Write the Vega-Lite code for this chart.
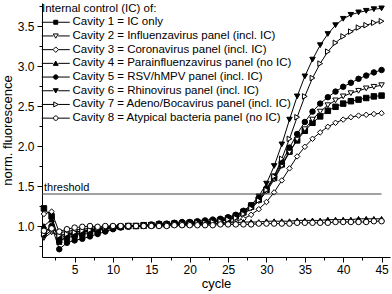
{
  "$schema": "https://vega.github.io/schema/vega-lite/v6.json",
  "width": 348,
  "height": 254,
  "autosize": {"type": "none"},
  "padding": {"left": 42, "top": 3, "right": 2, "bottom": 37},
  "config": {
    "font": "Liberation Sans",
    "view": {"stroke": null},
    "axis": {"domainColor": "black", "tickColor": "black", "labelColor": "black", "titleColor": "black", "labelFontSize": 12, "titleFontSize": 13, "titleFontWeight": "normal", "grid": false, "labelFont": "Liberation Sans", "titleFont": "Liberation Sans"}
  },
  "datasets": {
    "curves": [
      {"c":1,"C1":1.22,"C2":0.85,"C3":1.15,"C4":1.0,"C5":0.92,"C6":0.87,"C7":0.9,"C8":0.94},
      {"c":2,"C1":1.12,"C2":0.92,"C3":1.18,"C4":1.08,"C5":1.0,"C6":0.95,"C7":0.98,"C8":0.97},
      {"c":3,"C1":0.82,"C2":0.88,"C3":0.92,"C4":0.8,"C5":0.71,"C6":0.85,"C7":0.88,"C8":0.93},
      {"c":4,"C1":0.85,"C2":0.9,"C3":0.93,"C4":0.88,"C5":0.79,"C6":0.88,"C7":0.9,"C8":0.96},
      {"c":5,"C1":0.88,"C2":0.92,"C3":0.95,"C4":0.9,"C5":0.82,"C6":0.9,"C7":0.92,"C8":0.98},
      {"c":6,"C1":0.9,"C2":0.94,"C3":0.96,"C4":0.92,"C5":0.84,"C6":0.92,"C7":0.94,"C8":0.99},
      {"c":7,"C1":0.92,"C2":0.95,"C3":0.97,"C4":0.94,"C5":0.87,"C6":0.94,"C7":0.95,"C8":1.0},
      {"c":8,"C1":0.94,"C2":0.96,"C3":0.98,"C4":0.96,"C5":0.9,"C6":0.95,"C7":0.97,"C8":0.99},
      {"c":9,"C1":0.96,"C2":0.97,"C3":0.99,"C4":0.97,"C5":0.93,"C6":0.97,"C7":0.98,"C8":1.0},
      {"c":10,"C1":0.98,"C2":0.98,"C3":1.0,"C4":0.98,"C5":0.96,"C6":0.98,"C7":0.99,"C8":1.0},
      {"c":11,"C1":0.99,"C2":0.99,"C3":1.0,"C4":0.99,"C5":0.98,"C6":0.99,"C7":0.99,"C8":1.0},
      {"c":12,"C1":1.0,"C2":1.0,"C3":1.0,"C4":1.0,"C5":0.99,"C6":1.0,"C7":1.0,"C8":1.0},
      {"c":13,"C1":1.0,"C2":1.0,"C3":1.0,"C4":1.0,"C5":1.0,"C6":1.0,"C7":1.0,"C8":1.0},
      {"c":14,"C1":1.01,"C2":1.0,"C3":1.0,"C4":1.0,"C5":1.01,"C6":1.01,"C7":1.0,"C8":1.0},
      {"c":15,"C1":1.01,"C2":1.01,"C3":1.0,"C4":1.01,"C5":1.02,"C6":1.01,"C7":1.01,"C8":1.0},
      {"c":16,"C1":1.02,"C2":1.01,"C3":1.01,"C4":1.01,"C5":1.03,"C6":1.02,"C7":1.01,"C8":1.0},
      {"c":17,"C1":1.02,"C2":1.02,"C3":1.01,"C4":1.01,"C5":1.03,"C6":1.02,"C7":1.02,"C8":1.0},
      {"c":18,"C1":1.03,"C2":1.02,"C3":1.01,"C4":1.02,"C5":1.04,"C6":1.03,"C7":1.02,"C8":1.01},
      {"c":19,"C1":1.03,"C2":1.03,"C3":1.01,"C4":1.02,"C5":1.05,"C6":1.03,"C7":1.03,"C8":1.01},
      {"c":20,"C1":1.04,"C2":1.03,"C3":1.02,"C4":1.02,"C5":1.05,"C6":1.04,"C7":1.03,"C8":1.01},
      {"c":21,"C1":1.04,"C2":1.04,"C3":1.02,"C4":1.03,"C5":1.06,"C6":1.05,"C7":1.04,"C8":1.01},
      {"c":22,"C1":1.05,"C2":1.04,"C3":1.02,"C4":1.03,"C5":1.07,"C6":1.05,"C7":1.04,"C8":1.01},
      {"c":23,"C1":1.06,"C2":1.05,"C3":1.03,"C4":1.03,"C5":1.08,"C6":1.06,"C7":1.05,"C8":1.01},
      {"c":24,"C1":1.07,"C2":1.06,"C3":1.03,"C4":1.04,"C5":1.09,"C6":1.08,"C7":1.06,"C8":1.02},
      {"c":25,"C1":1.09,"C2":1.08,"C3":1.04,"C4":1.04,"C5":1.11,"C6":1.1,"C7":1.08,"C8":1.02},
      {"c":26,"C1":1.12,"C2":1.1,"C3":1.06,"C4":1.04,"C5":1.14,"C6":1.13,"C7":1.1,"C8":1.02},
      {"c":27,"C1":1.17,"C2":1.15,"C3":1.09,"C4":1.05,"C5":1.19,"C6":1.18,"C7":1.15,"C8":1.02},
      {"c":28,"C1":1.24,"C2":1.22,"C3":1.14,"C4":1.05,"C5":1.26,"C6":1.26,"C7":1.22,"C8":1.02},
      {"c":29,"C1":1.33,"C2":1.31,"C3":1.21,"C4":1.05,"C5":1.35,"C6":1.37,"C7":1.32,"C8":1.03},
      {"c":30,"C1":1.45,"C2":1.43,"C3":1.3,"C4":1.06,"C5":1.47,"C6":1.53,"C7":1.45,"C8":1.03},
      {"c":31,"C1":1.6,"C2":1.58,"C3":1.42,"C4":1.06,"C5":1.62,"C6":1.75,"C7":1.62,"C8":1.03},
      {"c":32,"C1":1.77,"C2":1.75,"C3":1.57,"C4":1.06,"C5":1.8,"C6":2.02,"C7":1.84,"C8":1.03},
      {"c":33,"C1":1.93,"C2":1.92,"C3":1.72,"C4":1.06,"C5":1.98,"C6":2.33,"C7":2.09,"C8":1.03},
      {"c":34,"C1":2.07,"C2":2.08,"C3":1.87,"C4":1.07,"C5":2.15,"C6":2.62,"C7":2.36,"C8":1.04},
      {"c":35,"C1":2.19,"C2":2.21,"C3":1.99,"C4":1.07,"C5":2.3,"C6":2.87,"C7":2.62,"C8":1.04},
      {"c":36,"C1":2.29,"C2":2.33,"C3":2.09,"C4":1.07,"C5":2.43,"C6":3.08,"C7":2.85,"C8":1.04},
      {"c":37,"C1":2.37,"C2":2.43,"C3":2.17,"C4":1.07,"C5":2.53,"C6":3.26,"C7":3.03,"C8":1.04},
      {"c":38,"C1":2.44,"C2":2.51,"C3":2.24,"C4":1.08,"C5":2.61,"C6":3.4,"C7":3.18,"C8":1.04},
      {"c":39,"C1":2.49,"C2":2.57,"C3":2.29,"C4":1.08,"C5":2.68,"C6":3.51,"C7":3.29,"C8":1.05},
      {"c":40,"C1":2.53,"C2":2.62,"C3":2.33,"C4":1.08,"C5":2.74,"C6":3.59,"C7":3.37,"C8":1.05},
      {"c":41,"C1":2.56,"C2":2.66,"C3":2.36,"C4":1.08,"C5":2.79,"C6":3.64,"C7":3.43,"C8":1.05},
      {"c":42,"C1":2.58,"C2":2.69,"C3":2.38,"C4":1.09,"C5":2.84,"C6":3.67,"C7":3.48,"C8":1.05},
      {"c":43,"C1":2.6,"C2":2.72,"C3":2.39,"C4":1.09,"C5":2.88,"C6":3.69,"C7":3.51,"C8":1.05},
      {"c":44,"C1":2.62,"C2":2.74,"C3":2.4,"C4":1.09,"C5":2.92,"C6":3.71,"C7":3.54,"C8":1.06},
      {"c":45,"C1":2.63,"C2":2.76,"C3":2.41,"C4":1.09,"C5":2.95,"C6":3.72,"C7":3.56,"C8":1.06}
    ],
    "keys": [{"key":"C1"},{"key":"C2"},{"key":"C3"},{"key":"C4"},{"key":"C5"},{"key":"C6"},{"key":"C7"},{"key":"C8"}],
    "thr": [{"x": 0.75, "x2": 45, "y": 1.4, "t": "threshold"}]
  },
  "layer": [
    {
      "data": {"name": "curves"},
      "transform": [{"fold": ["C1","C2","C3","C4","C5","C6","C7","C8"], "as": ["key","v"]}],
      "layer": [
        {
          "mark": {"type": "line", "color": "black", "strokeWidth": 1},
          "encoding": {
            "x": {"field": "c", "type": "quantitative",
              "scale": {"domain": [0.75, 46.1], "nice": false, "zero": false},
              "axis": {"orient": "bottom", "title": "cycle", "values": [5,10,15,20,25,30,35,40,45], "format": "d",
                "tickSize": 5, "labelPadding": 2, "titlePadding": 2, "labelFlush": false, "labelOverlap": false}},
            "y": {"field": "v", "type": "quantitative",
              "scale": {"domain": [0.6125, 3.7875], "nice": false, "zero": false},
              "axis": {"orient": "left", "title": "norm. fluorescence", "values": [1,1.5,2,2.5,3,3.5], "format": ".1f",
                "tickSize": 5, "labelPadding": 3, "titlePadding": 3, "labelFlush": false, "labelOverlap": false}},
            "detail": {"field": "key", "type": "nominal"}
          }
        },
        {
          "mark": {"type": "point", "filled": true, "stroke": "black", "strokeWidth": 1, "size": 30, "opacity": 1},
          "encoding": {
            "x": {"field": "c", "type": "quantitative"},
            "y": {"field": "v", "type": "quantitative"},
            "shape": {"field": "key", "type": "nominal", "legend": null,
              "scale": {"domain": ["C1","C2","C3","C4","C5","C6","C7","C8"], "range": ["square","triangle-down","diamond","triangle-up","circle","triangle-down","triangle-right","circle"]}},
            "fill": {"field": "key", "type": "nominal", "legend": null,
              "scale": {"domain": ["C1","C2","C3","C4","C5","C6","C7","C8"], "range": ["black","white","white","black","black","black","white","white"]}}
          }
        }
      ]
    },
    {
      "data": {"name": "thr"},
      "mark": {"type": "rule", "color": "#444", "strokeWidth": 1},
      "encoding": {
        "x": {"field": "x", "type": "quantitative",
          "axis": {"orient": "bottom", "title": null, "values": [2.5,7.5,12.5,17.5,22.5,27.5,32.5,37.5,42.5], "labels": false, "domain": false, "tickSize": 3}},
        "x2": {"field": "x2"},
        "y": {"field": "y", "type": "quantitative",
          "axis": {"orient": "left", "title": null, "values": [0.75,1.25,1.75,2.25,2.75,3.25,3.75], "labels": false, "domain": false, "tickSize": 3}}
      }
    },
    {
      "data": {"name": "thr"},
      "mark": {"type": "text", "align": "left", "baseline": "bottom", "dx": 2, "dy": -1, "fontSize": 11, "color": "black"},
      "encoding": {
        "x": {"field": "x", "type": "quantitative", "axis": null},
        "y": {"field": "y", "type": "quantitative", "axis": null},
        "text": {"field": "t"}
      }
    },
    {
      "data": {"name": "keys"},
      "mark": {"type": "point", "filled": true, "opacity": 0},
      "encoding": {
        "shape": {"field": "key", "type": "nominal",
          "scale": {"domain": ["C1","C2","C3","C4","C5","C6","C7","C8"], "range": [
            "M-1.2,0H1.2M2.0,0H4.4M1.2,-0.4H2.0V0.4H1.2Z",
            "M-1.2,0H1.1M2.1,0H4.4M1.1,-0.4H2.1L1.6,0.45Z",
            "M-1.2,0H1.05M2.15,0H4.4M1.6,-0.55L2.15,0L1.6,0.55L1.05,0Z",
            "M-1.2,0H1.1M2.1,0H4.4M1.1,0.4H2.1L1.6,-0.45Z",
            "M-1.2,0H1.15M2.05,0H4.4M1.15,0A0.45,0.45,0,1,0,2.05,0A0.45,0.45,0,1,0,1.15,0Z",
            "M-1.2,0H1.1M2.1,0H4.4M1.1,-0.4H2.1L1.6,0.45Z",
            "M-1.2,0H1.2M2.1,0H4.4M1.2,-0.5L2.1,0L1.2,0.5Z",
            "M-1.2,0H1.15M2.05,0H4.4M1.15,0A0.45,0.45,0,1,0,2.05,0A0.45,0.45,0,1,0,1.15,0Z"]},
          "legend": {"title": "Internal control (IC) of:", "orient": "top-left", "offset": 0, "padding": 0,
            "labelExpr": "datum.value == 'C1' ? 'Cavity 1 = IC only' : datum.value == 'C2' ? 'Cavity 2 = Influenzavirus panel (incl. IC)' : datum.value == 'C3' ? 'Cavity 3 = Coronavirus panel (incl. IC)' : datum.value == 'C4' ? 'Cavity 4 = Parainfluenzavirus panel (no IC)' : datum.value == 'C5' ? 'Cavity 5 = RSV/hMPV panel (incl. IC)' : datum.value == 'C6' ? 'Cavity 6 = Rhinovirus panel (incl. IC)' : datum.value == 'C7' ? 'Cavity 7 = Adeno/Bocavirus panel (incl. IC)' : 'Cavity 8 = Atypical bacteria panel (no IC)'",
            "symbolSize": 100, "symbolStrokeColor": "black", "symbolStrokeWidth": 1, "symbolOpacity": 1,
            "labelFontSize": 11.5, "labelColor": "black", "labelFont": "Liberation Sans", "labelLimit": 400,
            "titleFontSize": 11.5, "titleFontWeight": "normal", "titleColor": "black", "titleFont": "Liberation Sans", "titlePadding": 2,
            "rowPadding": 0.7, "labelOffset": 19,
            "encode": {"symbols": {"update": {"stroke": {"value": "black"}, "strokeWidth": {"value": 1}, "opacity": {"value": 1}}}}}
        },
        "fill": {"field": "key", "type": "nominal",
          "scale": {"domain": ["C1","C2","C3","C4","C5","C6","C7","C8"], "range": ["black","white","white","black","black","black","white","white"]},
          "legend": {"title": "Internal control (IC) of:", "orient": "top-left", "offset": 0, "padding": 0,
            "labelExpr": "datum.value == 'C1' ? 'Cavity 1 = IC only' : datum.value == 'C2' ? 'Cavity 2 = Influenzavirus panel (incl. IC)' : datum.value == 'C3' ? 'Cavity 3 = Coronavirus panel (incl. IC)' : datum.value == 'C4' ? 'Cavity 4 = Parainfluenzavirus panel (no IC)' : datum.value == 'C5' ? 'Cavity 5 = RSV/hMPV panel (incl. IC)' : datum.value == 'C6' ? 'Cavity 6 = Rhinovirus panel (incl. IC)' : datum.value == 'C7' ? 'Cavity 7 = Adeno/Bocavirus panel (incl. IC)' : 'Cavity 8 = Atypical bacteria panel (no IC)'",
            "symbolSize": 100, "symbolStrokeColor": "black", "symbolStrokeWidth": 1, "symbolOpacity": 1,
            "labelFontSize": 11.5, "labelColor": "black", "labelFont": "Liberation Sans", "labelLimit": 400,
            "titleFontSize": 11.5, "titleFontWeight": "normal", "titleColor": "black", "titleFont": "Liberation Sans", "titlePadding": 2,
            "rowPadding": 0.7, "labelOffset": 19,
            "encode": {"symbols": {"update": {"stroke": {"value": "black"}, "strokeWidth": {"value": 1}, "opacity": {"value": 1}}}}}
        }
      }
    }
  ],
  "resolve": {"scale": {"shape": "independent", "fill": "independent"}, "legend": {"shape": "independent", "fill": "independent"}, "axis": {"x": "independent", "y": "independent"}}
}
